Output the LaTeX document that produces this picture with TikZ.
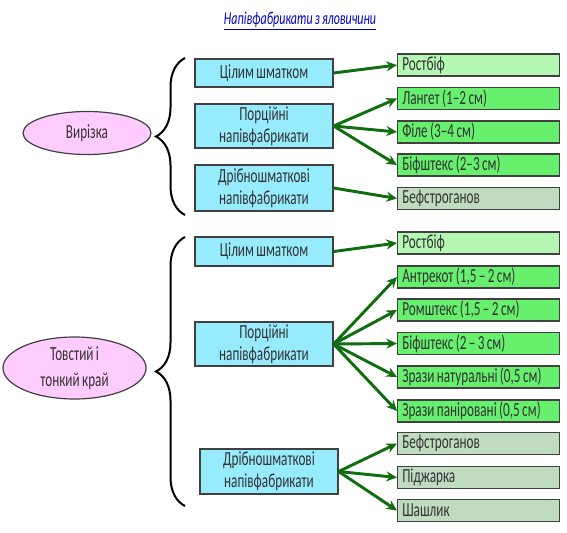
\documentclass[tikz,border=0pt]{standalone}
\usepackage{fontspec}
\setmainfont{Carlito}[FakeStretch=0.66,WordSpace=0.8]
\usepackage{xcolor}
\usepackage{tikz}
\usetikzlibrary{arrows.meta,shapes.geometric,decorations.pathreplacing}

\definecolor{partfill}{RGB}{150,236,252}
\definecolor{cutfill}{RGB}{255,204,255}
\definecolor{roastfill}{RGB}{180,248,180}
\definecolor{portfill}{RGB}{102,240,110}
\definecolor{smallfill}{RGB}{192,220,192}
\definecolor{arrowgreen}{RGB}{16,110,16}
\definecolor{titleblue}{RGB}{0,0,210}

\begin{document}
\begin{tikzpicture}[
  x=0.75pt,y=-0.75pt,
  box/.style={draw=black!75,line width=0.9pt,inner xsep=3.5pt,inner ysep=0.5pt,
              text=black!80,font=\fontsize{15}{16.5}\selectfont},
  part/.style={box,fill=partfill,align=center,minimum width=103.5pt},
  dish/.style={box,anchor=west,minimum width=121.5pt,minimum height=16.5pt,
               text width=114.5pt,align=flush left},
  roast/.style={dish,fill=roastfill},
  port/.style={dish,fill=portfill},
  small/.style={dish,fill=smallfill},
  cut/.style={ellipse,draw=black!75,line width=0.9pt,fill=cutfill,inner sep=0pt,
              align=center,text=black!80,font=\fontsize{15}{19.5}\selectfont},
  brc/.style={decorate,line width=1.5pt,decoration={brace,amplitude=21.75pt}},
  ar/.style={-{Stealth[length=8pt,width=7.5pt]},line width=2.2pt,draw=arrowgreen}
]
\useasboundingbox (0,0) rectangle (567,532);

\node[font=\fontsize{13.6}{15}\selectfont\itshape,text=titleblue] (title) at (300,21)
  {\underline{Напівфабрикати з яловичини}};

\node[cut,minimum width=96pt,minimum height=32.25pt] (fillet) at (87,133) {Вирізка};
\draw[brc] (185,215) -- (185,58);

\node[part,minimum height=21pt] (fwhole) at (264,73) {Цілим шматком};
\node[part,minimum height=33pt] (fport) at (264,126) {Порційні\\напівфабрикати};
\node[part,minimum height=34.5pt] (fsmall) at (264,188) {Дрібношматкові\\напівфабрикати};

\node[roast] (froast) at (397,65) {Ростбіф};
\node[port] (flanget) at (397,98.5) {Лангет (1–2 см)};
\node[port] (ffile) at (397,132) {Філе (3–4 см)};
\node[port] (fsteak) at (397,165) {Біфштекс (2–3 см)};
\node[small] (fstrog) at (397,198.5) {Бефстроганов};

\draw[ar] (fwhole.east) -- (froast.west);
\draw[ar] (fport.east) -- (flanget.west);
\draw[ar] (fport.east) -- (ffile.west);
\draw[ar] (fport.east) -- (fsteak.west);
\draw[ar] (fsmall.east) -- (fstrog.west);

\node[cut,minimum width=107.25pt,minimum height=46.5pt] (loin) at (74.5,368)
  {Товстий і\\тонкий край};
\draw[brc] (185,506) -- (185,237);

\node[part,minimum height=21.75pt] (lwhole) at (264,251.5) {Цілим шматком};
\node[part,minimum height=33pt] (lport) at (264,344) {Порційні\\напівфабрикати};
\node[part,minimum height=33.75pt] (lsmall) at (269,471.5) {Дрібношматкові\\напівфабрикати};

\node[roast] (lroast) at (397,243) {Ростбіф};
\node[port] (lentre) at (397,277) {Антрекот (1,5 – 2 см)};
\node[port] (lrump) at (397,310) {Ромштекс (1,5 – 2 см)};
\node[port] (lsteak) at (397,343.5) {Біфштекс (2 – 3 см)};
\node[port] (lzrazn) at (397,377) {Зрази натуральні (0,5 см)};
\node[port] (lzrazp) at (397,411) {Зрази паніровані (0,5 см)};
\node[small] (lstrog) at (397,443.5) {Бефстроганов};
\node[small] (lfry) at (397,477.5) {Піджарка};
\node[small] (lkebab) at (397,510.5) {Шашлик};

\draw[ar] (lwhole.east) -- (lroast.west);
\foreach \t in {lentre,lrump,lsteak,lzrazn,lzrazp}
  \draw[ar] (lport.east) -- (\t.west);
\foreach \t in {lstrog,lfry,lkebab}
  \draw[ar] (lsmall.east) -- (\t.west);
\end{tikzpicture}
\end{document}
